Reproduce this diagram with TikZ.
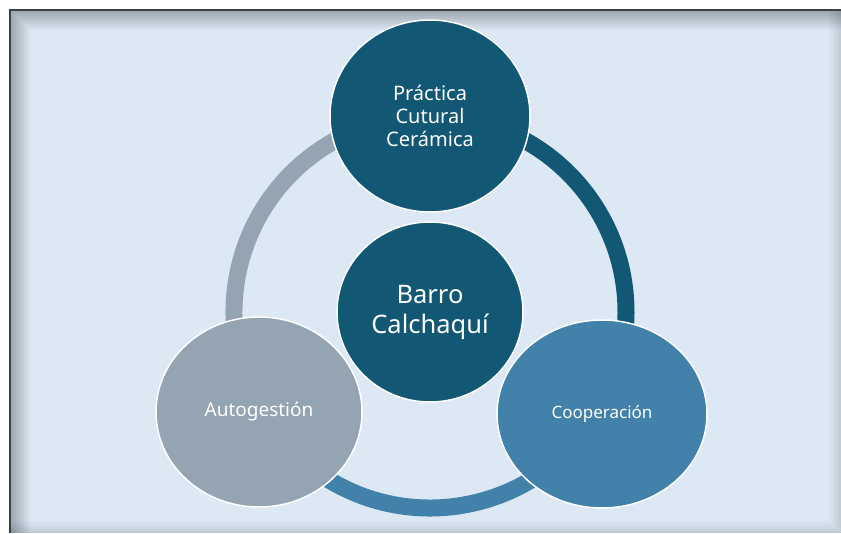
\documentclass[tikz,border=0pt]{standalone}
\usepackage{fontspec}
\setmainfont{Noto Sans}
\usetikzlibrary{shapes.geometric}

\definecolor{paleblue}{HTML}{DCE9F5}
\definecolor{deepteal}{HTML}{125773}
\definecolor{steelblue}{HTML}{4181AA}
\definecolor{slategray}{HTML}{94A4B2}

\begin{document}
\begin{tikzpicture}[x=1pt,y=1pt]

\tikzset{bubble/.style = {shape=ellipse,draw=white,line width=1.5pt,text=white,align=center,inner sep=0pt}}
\tikzset{ring/.style = {line width=17pt}}
\useasboundingbox (0,0) rectangle (841,533);
% frame
\fill[paleblue] (9,0) rectangle (841,524);
\foreach \d in {0,...,9}
  \draw[black,opacity={0.28-0.028*\d},line width=2pt] (11+2*\d,0) -- (11+2*\d,522-2*\d) -- (841,522-2*\d);
\foreach \d in {0,...,5}
  \draw[black,opacity={0.12-0.02*\d},line width=2pt] (10,1+2*\d) -- (840-2*\d,1+2*\d) -- (840-2*\d,523);
\draw[line width=2pt,black!75] (10,0) -- (10,523) -- (841,523);

% ring
\coordinate (hub) at (430,221);
\draw[ring,deepteal] (hub) ++(90:196) arc[start angle=90,end angle=-30,radius=196];
\draw[ring,steelblue] (hub) ++(-30:196) arc[start angle=-30,end angle=-150,radius=196];
\draw[ring,slategray] (hub) ++(210:196) arc[start angle=210,end angle=90,radius=196];

% bubbles
\node[bubble,fill=deepteal,minimum width=200pt,minimum height=192pt,font=\fontsize{20}{23}\selectfont] (practica) at (430,417)
  {Práctica\\Cutural\\Cerámica};
\node[bubble,fill=deepteal,minimum width=186pt,minimum height=180pt,font=\fontsize{25.5}{30}\selectfont] (barro) at (430,221)
  {Barro\\Calchaquí};
\node[bubble,fill=slategray,minimum width=206pt,minimum height=190pt,font=\fontsize{19}{22}\selectfont] (auto) at (259,121)
  {Autogestión};
\node[bubble,fill=steelblue,minimum width=210pt,minimum height=188pt,font=\fontsize{17}{20}\selectfont] (coop) at (602,119)
  {Cooperación};

\end{tikzpicture}
\end{document}
